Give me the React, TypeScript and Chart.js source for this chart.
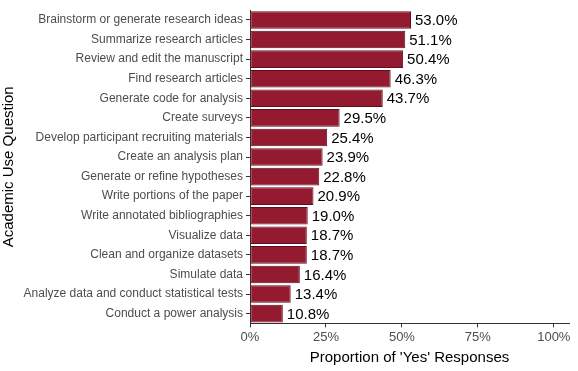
import React, { useEffect, useRef } from "react";
import { Chart, registerables } from "chart.js";

Chart.register(...registerables);

const categories = [
  "Brainstorm or generate research ideas",
  "Summarize research articles",
  "Review and edit the manuscript",
  "Find research articles",
  "Generate code for analysis",
  "Create surveys",
  "Develop participant recruiting materials",
  "Create an analysis plan",
  "Generate or refine hypotheses",
  "Write portions of the paper",
  "Write annotated bibliographies",
  "Visualize data",
  "Clean and organize datasets",
  "Simulate data",
  "Analyze data and conduct statistical tests",
  "Conduct a power analysis",
];

const yesPercent = [53.0, 51.1, 50.4, 46.3, 43.7, 29.5, 25.4, 23.9, 22.8, 20.9, 19.0, 18.7, 18.7, 16.4, 13.4, 10.8];

const xTicks = [0, 25, 50, 75, 100];

const FONT = "Arial, 'Liberation Sans', sans-serif";

const labelPlugin = {
  id: "barLabels",
  afterDatasetsDraw(chart: any) {
    const ctx = chart.ctx;
    const meta = chart.getDatasetMeta(0);
    ctx.save();
    ctx.font = `15px ${FONT}`;
    ctx.fillStyle = "#000000";
    ctx.textAlign = "left";
    ctx.textBaseline = "middle";
    meta.data.forEach((bar: any, i: number) => {
      ctx.fillText(yesPercent[i].toFixed(1) + "%", bar.x + 4, bar.y + 1);
    });
    ctx.restore();
  },
};

export default function App() {
  const ref = useRef<HTMLCanvasElement>(null);
  useEffect(() => {
    if (!ref.current) return;
    const chart = new Chart(ref.current, {
      type: "bar",
      data: {
        labels: categories,
        datasets: [
          {
            data: yesPercent,
            backgroundColor: "#941A2F",
            borderColor: "#5C1020",
            borderWidth: 1,
            borderSkipped: false,
            barPercentage: 0.9,
            categoryPercentage: 1,
          },
        ],
      },
      options: {
        indexAxis: "y",
        animation: false,
        responsive: false,
        maintainAspectRatio: false,
        layout: { padding: { top: 8, right: 9, bottom: 4, left: 0 } },
        plugins: { legend: { display: false }, tooltip: { enabled: false } },
        scales: {
          x: {
            min: 0,
            max: 105,
            afterBuildTicks: (scale: any) => {
              scale.ticks = xTicks.map((v) => ({ value: v }));
            },
            grid: { display: true, drawOnChartArea: false, drawTicks: true, tickLength: 4, color: "#333333" },
            border: { display: true, color: "#333333", width: 1 },
            ticks: {
              color: "#4D4D4D",
              font: { size: 13, family: FONT },
              padding: 2,
              callback: (v: any) => v + "%",
              maxRotation: 0,
            },
            title: {
              display: true,
              text: "Proportion of 'Yes' Responses",
              color: "#000000",
              font: { size: 15, family: FONT },
              padding: { top: 2, bottom: 0 },
            },
          },
          y: {
            afterFit: (scale: any) => {
              scale.width = 250;
            },
            grid: { display: true, drawOnChartArea: false, drawTicks: true, tickLength: 4, color: "#333333", offset: false },
            border: { display: true, color: "#333333", width: 1 },
            ticks: {
              color: "#4D4D4D",
              font: { size: 12, family: FONT },
              padding: 3,
              autoSkip: false,
            },
            title: {
              display: true,
              text: "Academic Use Question",
              color: "#000000",
              font: { size: 15, family: FONT },
              padding: { top: 0, bottom: 4 },
            },
          },
        },
      },
      plugins: [labelPlugin],
    });
    return () => chart.destroy();
  }, []);
  return (
    <div style={{ position: "fixed", left: 0, top: 0, width: 578, height: 371, background: "#ffffff" }}>
      <canvas ref={ref} width={578} height={371} style={{ display: "block" }} />
    </div>
  );
}
